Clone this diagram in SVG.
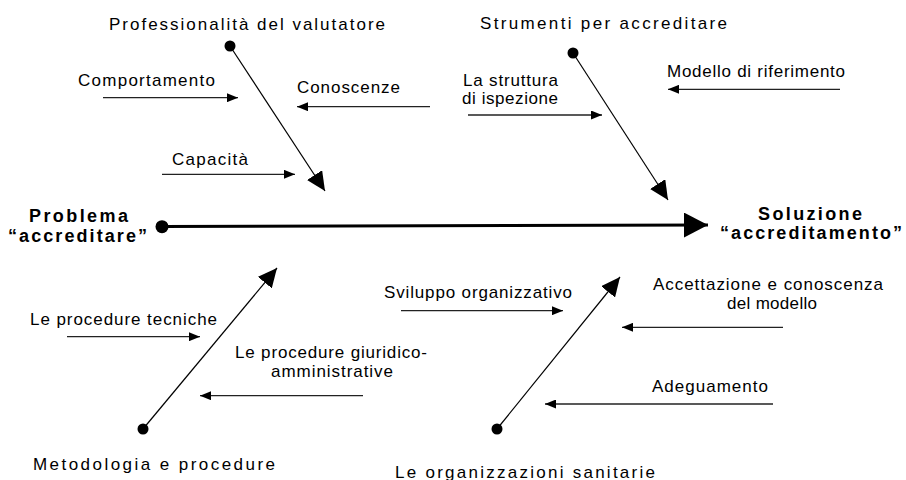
<svg xmlns="http://www.w3.org/2000/svg" width="906" height="480" viewBox="0 0 906 480">
<defs>
<style>
text{font-family:"Liberation Sans",Arial,sans-serif;fill:#000;}
.t{font-size:17px;}
.b{font-size:18px;font-weight:bold;}
.diag{stroke:#000;stroke-width:1.2;fill:none;}
.sm{stroke:#222;stroke-width:1.3;fill:none;}
.spine{stroke:#000;stroke-width:3;fill:none;}
.dot{fill:#000;}
</style>
<marker id="big" viewBox="0 0 19 18" refX="19" refY="9" markerWidth="19" markerHeight="18" markerUnits="userSpaceOnUse" orient="auto"><path d="M0,0 L19,9 L0,18 z" fill="#000"/></marker>
<marker id="small" viewBox="0 0 11 9" refX="11" refY="4.5" markerWidth="11" markerHeight="9" markerUnits="userSpaceOnUse" orient="auto"><path d="M0,0 L11,4.5 L0,9 z" fill="#000"/></marker>
<marker id="head" viewBox="0 0 24 25" refX="24" refY="12.5" markerWidth="24" markerHeight="25" markerUnits="userSpaceOnUse" orient="auto"><path d="M0,0 L24,12.5 L0,25 z" fill="#000"/></marker>
</defs>
<rect width="906" height="480" fill="#fff"/>
<g id="connectors">
<line class="spine" x1="162" y1="226.5" x2="708" y2="225" marker-end="url(#head)"/>
<line class="diag" x1="230" y1="46" x2="325" y2="191" marker-end="url(#big)"/>
<line class="diag" x1="573" y1="53" x2="668" y2="200" marker-end="url(#big)"/>
<line class="diag" x1="143" y1="429" x2="277" y2="268" marker-end="url(#big)"/>
<line class="diag" x1="497" y1="429" x2="620" y2="277" marker-end="url(#big)"/>
<line class="sm" x1="103" y1="97.7" x2="238" y2="97.7" marker-end="url(#small)"/>
<line class="sm" x1="430" y1="106.7" x2="297" y2="106.7" marker-end="url(#small)"/>
<line class="sm" x1="162" y1="174.3" x2="295" y2="174.3" marker-end="url(#small)"/>
<line class="sm" x1="468" y1="115" x2="602" y2="115" marker-end="url(#small)"/>
<line class="sm" x1="840" y1="89.3" x2="668" y2="89.3" marker-end="url(#small)"/>
<line class="sm" x1="67" y1="336.7" x2="200" y2="336.7" marker-end="url(#small)"/>
<line class="sm" x1="363" y1="395.7" x2="200" y2="395.7" marker-end="url(#small)"/>
<line class="sm" x1="401" y1="310.7" x2="563" y2="310.7" marker-end="url(#small)"/>
<line class="sm" x1="783" y1="327.3" x2="622" y2="327.3" marker-end="url(#small)"/>
<line class="sm" x1="773" y1="404" x2="545" y2="404" marker-end="url(#small)"/>
<circle class="dot" cx="162" cy="226.7" r="6.5"/>
<circle class="dot" cx="230" cy="46" r="5.5"/>
<circle class="dot" cx="573" cy="53" r="5.5"/>
<circle class="dot" cx="143" cy="429" r="5.5"/>
<circle class="dot" cx="497" cy="429" r="5.5"/>
</g>
<g id="problema">
<text class="b" x="29" y="221.5" textLength="99" lengthAdjust="spacing">Problema</text>
<text class="b" x="8" y="241.5" textLength="139" lengthAdjust="spacing">“accreditare”</text>
</g>
<g id="soluzione">
<text class="b" x="758" y="220" textLength="104" lengthAdjust="spacing">Soluzione</text>
<text class="b" x="720" y="239" textLength="182" lengthAdjust="spacing">“accreditamento”</text>
</g>
<g id="professionalita">
<text class="t" x="109" y="30" textLength="276" lengthAdjust="spacing">Professionalità del valutatore</text>
</g>
<g id="strumenti">
<text class="t" x="480" y="29" textLength="247" lengthAdjust="spacing">Strumenti per accreditare</text>
</g>
<g id="metodologia">
<text class="t" x="33" y="469.5" textLength="242" lengthAdjust="spacing">Metodologia e procedure</text>
</g>
<g id="organizzazioni">
<text class="t" x="395" y="477.5" textLength="260" lengthAdjust="spacing">Le organizzazioni sanitarie</text>
</g>
<g id="comportamento"><text class="t" x="78" y="85.7" textLength="137" lengthAdjust="spacing">Comportamento</text></g>
<g id="conoscenze"><text class="t" x="297" y="93.3" textLength="103" lengthAdjust="spacing">Conoscenze</text></g>
<g id="capacita"><text class="t" x="172" y="165" textLength="76" lengthAdjust="spacing">Capacità</text></g>
<g id="struttura">
<text class="t" x="463" y="86" textLength="95" lengthAdjust="spacing">La struttura</text>
<text class="t" x="462" y="104" textLength="96" lengthAdjust="spacing">di ispezione</text>
</g>
<g id="modello"><text class="t" x="667" y="77" textLength="178" lengthAdjust="spacing">Modello di riferimento</text></g>
<g id="tecniche"><text class="t" x="30" y="325" textLength="187" lengthAdjust="spacing">Le procedure tecniche</text></g>
<g id="giuridico">
<text class="t" x="235" y="358" textLength="192" lengthAdjust="spacing">Le procedure giuridico-</text>
<text class="t" x="271" y="377" textLength="122" lengthAdjust="spacing">amministrative</text>
</g>
<g id="sviluppo"><text class="t" x="384" y="298" textLength="188" lengthAdjust="spacing">Sviluppo organizzativo</text></g>
<g id="accettazione">
<text class="t" x="653" y="290" textLength="230" lengthAdjust="spacing">Accettazione e conoscenza</text>
<text class="t" x="727" y="309" textLength="90" lengthAdjust="spacing">del modello</text>
</g>
<g id="adeguamento"><text class="t" x="652" y="391.7" textLength="116" lengthAdjust="spacing">Adeguamento</text></g>
</svg>
